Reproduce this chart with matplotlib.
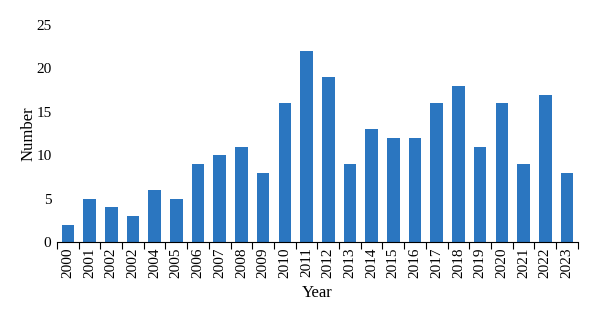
import matplotlib.pyplot as plt
import numpy as np

# data
years = ["2000", "2001", "2002", "2002", "2004", "2005", "2006", "2007", "2008", "2009",
         "2010", "2011", "2012", "2013", "2014", "2015", "2016", "2017", "2018", "2019",
         "2020", "2021", "2022", "2023"]
counts = [2, 5, 4, 3, 6, 5, 9, 10, 11, 8, 16, 22, 19, 9, 13, 12, 12, 16, 18, 11, 16, 9, 17, 8]

plt.rcParams['font.family'] = ['Liberation Serif', 'DejaVu Serif']

fig = plt.figure(figsize=(6, 3.18), dpi=100)
ax = fig.add_axes([0.095, 0.239, 0.868, 0.682])

x = np.arange(len(years))
ax.bar(x, counts, width=0.58, color="#2b76c0")

ax.set_xlim(-0.5, len(years) - 0.5)
ax.set_ylim(0, 25)
ax.set_yticks([0, 5, 10, 15, 20, 25])
ax.tick_params(axis="y", length=0, labelsize=11, pad=4)

# ticks between categories
ax.set_xticks(np.arange(-0.5, len(years), 1))
ax.set_xticklabels([])
ax.set_xticks(x, minor=True)
ax.set_xticklabels(years, minor=True, rotation=90, fontsize=11)
ax.tick_params(axis="x", which="major", length=5, direction="out", width=0.8)
ax.tick_params(axis="x", which="minor", length=0, pad=4)

for s in ["top", "right", "left"]:
    ax.spines[s].set_visible(False)
ax.spines["bottom"].set_linewidth(0.8)

ax.set_xlabel("Year", fontsize=12, labelpad=5)
ax.set_ylabel("Number", fontsize=12, labelpad=0)

plt.savefig("out.png", dpi=100)
